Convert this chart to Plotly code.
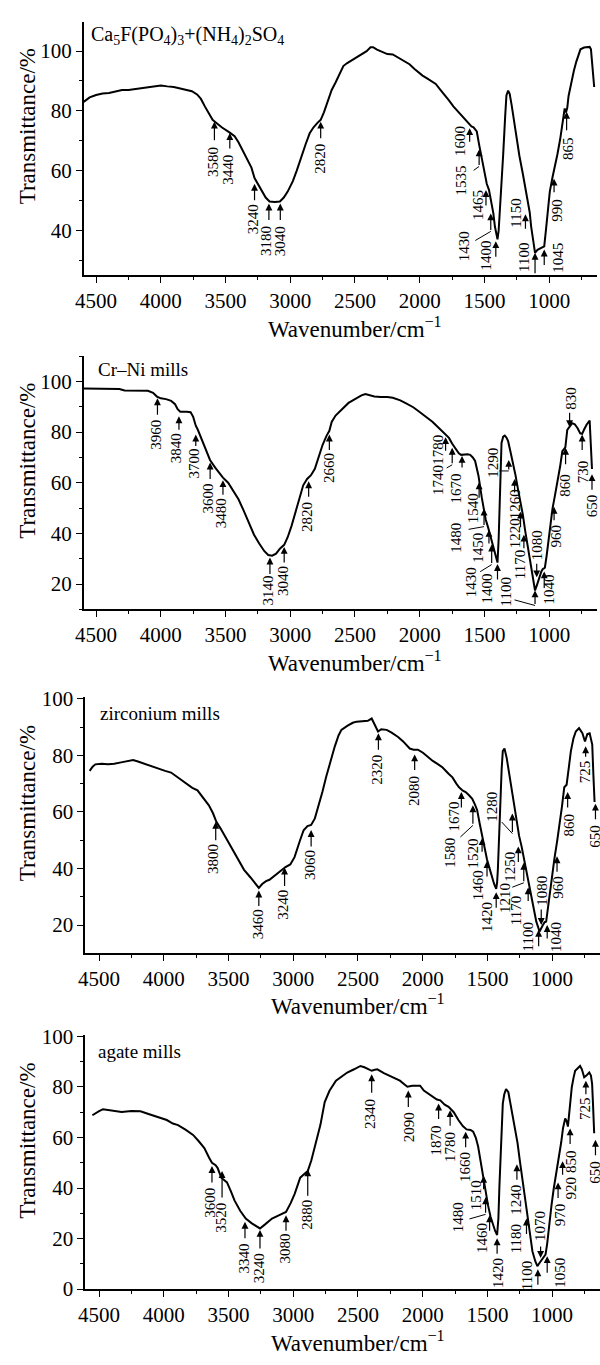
import plotly.graph_objects as go

# ---------------- data ----------------
# Panel 1: Ca5F(PO4)3 + (NH4)2SO4
p1_wn = [4596,4550,4500,4450,4400,4350,4300,4250,4200,4150,4100,4050,4000,3950,3900,3850,3800,3760,3720,3690,
         3660,3630,3600,3580,3530,3470,3430,3400,3370,3330,3300,3276,3250,3220,3190,3160,3120,3080,3050,3020,
         2980,2950,2920,2880,2850,2820,2790,2765,2740,2710,2680,2650,2620,2590,2560,2520,2480,2440,2410,2380,
         2360,2330,2290,2250,2208,2150,2100,2079,2040,2000,1978,1940,1900,1876,1840,1800,1774,1740,1700,1673,
         1640,1600,1584,1559,1541,1521,1508,1482,1465,1450,1440,1431,1419,1399,1390,1381,1368,1355,1340,1330,
         1317,1305,1290,1270,1254,1230,1203,1185,1165,1150,1139,1125,1109,1090,1070,1050,1038,1025,1012,995,
         974,955,936,915,898,880,870,860,850,835,809,790,770,758,730,700,687,677,665,652]
p1_t = [83.0,84.5,85.3,85.8,86.0,86.5,87.0,87.0,87.3,87.5,88.0,88.2,88.5,88.2,88.0,87.5,87.0,86.6,85.5,84.0,
        81.5,79.0,77.0,76.3,74.5,72.8,71.5,69.5,67.0,63.5,61.0,57.5,55.5,53.0,51.0,49.7,49.5,49.7,51.0,53.0,
        56.5,60.0,64.0,69.0,72.5,74.5,76.0,77.0,79.5,83.5,87.0,89.5,92.0,95.0,96.0,97.0,98.0,99.0,100.0,101.3,
        101.3,100.5,99.8,99.0,98.9,97.5,96.2,95.6,94.0,92.5,91.8,90.8,89.5,89.0,87.0,85.0,83.5,81.5,79.5,78.1,
        76.5,74.8,74.5,73.1,68.7,64.0,61.1,55.6,53.6,50.5,48.0,45.7,41.3,37.0,40.0,45.7,55.0,65.5,78.0,85.2,
        86.8,85.7,82.0,76.0,70.9,65.0,58.9,54.5,50.1,46.0,41.3,36.5,32.5,33.5,34.0,34.3,34.7,40.0,45.7,53.0,
        57.8,61.5,65.5,70.5,75.3,80.8,79.5,81.0,85.0,88.5,93.4,96.5,99.5,100.6,101.2,101.4,101.4,100.6,95.0,88.0]
p1_lab = ["3580","3440","3240","3180","3040","2820","1600","1535","1465","1430","1400","1150","1100","1045","990","865"]
p1_lab_wn = [3586,3467,3276,3165,3077,2765,1614,1541,1488,1451,1412,1183,1109,1038,962,865]
p1_lab_t = [76.4,72.6,55.6,49.0,49.0,76.4,74.2,67.1,53.5,45.7,36.4,45.4,32.5,33.6,57.3,79.7]

# Panel 2: Cr-Ni mills
p2_wn = [4596,4500,4400,4320,4280,4200,4100,4060,4030,4000,3960,3920,3890,3870,3850,3800,3770,3750,3730,3715,
         3690,3660,3620,3580,3540,3520,3480,3440,3400,3360,3320,3280,3240,3200,3170,3140,3110,3080,3047,3020,
         2990,2960,2930,2900,2870,2840,2810,2780,2750,2720,2698,2680,2650,2600,2550,2500,2450,2420,2390,2350,
         2300,2250,2208,2150,2105,2050,2003,1950,1902,1860,1825,1800,1774,1750,1736,1717,1698,1680,1660,1630,
         1610,1590,1572,1546,1520,1508,1490,1470,1450,1431,1415,1399,1390,1381,1373,1368,1355,1343,1330,1317,
         1300,1279,1260,1241,1220,1203,1185,1165,1145,1127,1109,1095,1076,1060,1050,1033,1020,1012,995,974,
         955,936,915,898,885,875,860,840,822,802,780,760,745,730,710,687,678,669]
p2_t = [97.2,97.2,97.0,97.0,96.4,96.3,96.3,95.5,94.0,93.3,93.0,92.3,91.0,89.0,88.0,88.0,87.8,86.0,82.5,81.0,
        78.0,74.0,69.0,66.0,63.5,62.0,60.0,57.0,53.5,49.0,44.0,39.5,36.0,33.0,31.5,31.2,32.0,34.0,35.5,38.5,
        43.0,48.5,54.0,59.0,61.5,63.0,65.5,70.0,75.0,78.5,80.5,84.0,86.5,89.0,91.5,93.0,94.5,95.0,94.5,94.0,
        93.8,93.8,93.5,92.5,91.3,89.8,88.0,86.0,84.1,82.0,80.3,79.0,77.7,75.5,74.4,73.0,71.6,71.0,71.2,71.2,
        71.0,70.0,68.6,62.8,54.0,49.8,45.5,42.1,38.0,34.3,31.0,28.5,38.0,52.4,68.0,75.7,78.2,78.6,77.8,76.4,
        72.5,68.0,63.0,57.6,52.0,47.3,41.0,34.3,28.0,22.7,17.5,19.5,22.7,25.0,25.9,26.5,31.0,34.3,42.0,49.8,
        55.0,60.2,66.5,72.5,73.5,74.0,80.9,82.5,83.5,83.1,81.5,79.5,79.3,81.0,83.0,84.5,75.0,65.4]
p2_lab = ["3960","3840","3700","3600","3480","3140","3040","2820","2660","1780","1740","1670","1540","1480","1450",
          "1430","1400","1290","1260","1220","1170","1080","1100","1040","960","860","830","730","650"]
p2_lab_wn = [4026,3860,3730,3619,3520,3157,3047,2858,2698,1800,1749,1673,1541,1503,1465,
             1444,1399,1312,1267,1221,1195,1096,1109,1038,962,873,842,745,669]
p2_lab_t = [93.3,86.2,79.0,68.0,61.0,30.5,34.7,60.6,79.0,78.0,73.8,70.6,60.2,49.8,41.4,
            35.6,27.9,69.0,61.5,48.6,39.5,22.7,17.5,25.0,50.5,73.8,81.9,79.0,63.4]

# Panel 3: zirconium mills
p3_wn = [4573,4550,4529,4480,4430,4383,4330,4280,4237,4200,4150,4100,4032,3990,3944,3900,3860,3827,3780,3740,
         3700,3652,3620,3594,3560,3506,3460,3418,3380,3330,3290,3266,3240,3210,3184,3140,3096,3060,3023,2990,
         2950,2920,2890,2862,2833,2800,2775,2745,2716,2680,2650,2628,2580,2540,2511,2470,2424,2394,2370,2345,
         2320,2278,2240,2190,2151,2100,2070,2037,1998,1960,1922,1880,1846,1800,1770,1740,1719,1690,1668,1640,
         1617,1595,1579,1560,1541,1520,1503,1480,1465,1448,1432,1425,1419,1410,1402,1390,1381,1368,1351,1330,
         1313,1290,1274,1255,1236,1215,1198,1180,1160,1140,1122,1097,1085,1071,1058,1046,1035,1021,1000,983,
         960,944,925,906,888,870,855,835,817,792,775,766,746,728,710,700,690,681,672]
p3_t = [74.5,76.0,76.8,77.0,76.8,77.0,77.5,78.0,78.3,77.8,77.0,76.0,75.0,74.5,73.9,72.5,71.0,69.9,68.5,67.6,
        65.0,62.3,59.5,56.5,54.0,49.6,46.0,42.6,39.5,36.8,34.5,33.1,34.5,35.5,36.0,37.5,39.1,40.5,41.4,44.0,
        49.6,53.5,55.0,55.4,57.7,62.5,67.0,72.5,77.4,83.0,87.0,89.0,90.5,91.5,91.9,92.0,92.2,93.0,91.0,88.4,
        89.2,89.0,88.0,86.5,84.9,82.4,82.0,82.0,80.9,79.5,78.0,76.8,75.7,73.5,72.2,70.0,68.7,67.5,67.0,65.8,
        64.6,62.5,60.6,56.0,51.3,46.5,43.2,39.5,36.8,34.5,32.8,35.0,39.7,52.0,65.2,75.0,81.5,82.4,79.1,73.0,
        67.5,61.0,55.9,51.5,47.8,43.0,38.5,34.0,30.4,25.5,21.2,17.7,19.0,20.0,21.0,21.2,25.0,30.4,37.5,43.2,
        50.0,54.8,61.5,68.7,69.6,76.0,81.5,86.0,88.4,89.6,88.5,87.8,84.9,87.5,87.8,86.0,83.8,73.0,63.5]
p3_lab = ["3800","3460","3240","3060","2320","2080","1670","1580","1520","1460","1420","1280","1250","1210",
          "1170","1080","1100","1040","960","860","725","650"]
p3_lab_wn = [3599,3266,3067,2862,2342,2062,1701,1612,1541,1503,1432,1307,1261,1219,
             1185,1084,1104,1038,962,880,741,665]
p3_lab_t = [56.5,32.2,40.3,53.6,87.8,80.3,67.0,62.3,50.7,42.6,31.6,59.4,47.8,42.0,
            33.3,20.0,18.3,20.0,44.3,67.0,83.2,62.9]

# Panel 4: agate mills
p4_wn = [4552,4520,4500,4470,4442,4400,4326,4250,4180,4130,4093,4040,3977,3930,3890,3830,3774,3730,3687,3650,
         3628,3600,3585,3556,3530,3512,3480,3454,3410,3367,3320,3280,3257,3220,3190,3164,3120,3080,3056,3020,
         2989,2960,2946,2915,2888,2860,2840,2815,2790,2757,2720,2670,2620,2583,2530,2481,2450,2420,2394,2370,
         2350,2300,2232,2176,2140,2118,2080,2042,2020,1991,1960,1928,1890,1864,1830,1800,1760,1724,1690,1661,
         1630,1610,1590,1572,1550,1534,1515,1495,1475,1457,1440,1425,1415,1407,1395,1381,1370,1356,1338,1320,
         1305,1285,1267,1250,1229,1210,1191,1170,1152,1130,1114,1095,1076,1060,1051,1038,1026,1005,988,970,
         950,930,916,899,888,878,865,848,835,822,800,784,770,752,735,713,700,691,683,675]
p4_t = [68.8,70.0,70.4,71.2,71.0,70.5,70.1,70.5,70.4,69.5,68.8,68.0,66.9,65.5,64.9,63.0,61.0,58.5,55.8,52.0,
        50.0,49.0,48.0,44.1,43.0,42.2,38.5,35.1,31.0,27.9,26.0,24.5,24.0,25.5,27.0,27.9,29.0,30.0,30.5,34.0,
        37.7,42.0,44.1,45.5,46.7,51.0,55.0,59.7,65.0,74.0,78.5,82.5,84.5,85.7,87.0,88.3,87.8,87.0,86.4,86.8,
        87.0,85.5,84.0,82.5,81.0,80.1,80.5,80.5,80.5,78.6,77.5,76.6,75.0,74.7,73.0,72.1,70.0,66.9,64.5,63.2,
        63.0,62.3,60.0,56.5,50.0,44.8,38.5,33.1,28.5,25.3,23.0,21.4,28.0,40.9,58.0,73.4,77.0,79.2,77.9,73.0,
        68.2,63.0,57.8,51.0,43.5,35.5,27.9,21.0,14.9,11.0,9.1,10.5,11.7,13.0,13.6,18.0,24.0,33.0,39.6,45.0,
        51.3,58.0,63.6,67.5,66.5,64.3,71.0,79.9,83.5,86.4,87.5,88.3,87.0,83.8,84.5,85.7,84.5,81.2,72.0,61.7]
p4_lab = ["3600","3520","3340","3240","3080","2880","2340","2090","1870","1780","1660","1510","1480","1460",
          "1420","1240","1180","1070","1100","1050","970","920","850","725","650"]
p4_lab_wn = [3628,3550,3373,3257,3056,2888,2394,2111,1877,1788,1668,1529,1514,1483,
             1425,1272,1198,1089,1110,1038,954,919,861,739,665]
p4_lab_t = [48.7,46.7,26.6,23.4,29.2,47.4,85.0,78.6,73.4,70.8,62.3,44.8,36.3,29.2,
            20.1,49.4,27.9,12.3,7.8,13.0,42.2,50.6,63.6,82.5,59.1]

panel_names = ["Ca<sub>5</sub>F(PO<sub>4</sub>)<sub>3</sub>+(NH<sub>4</sub>)<sub>2</sub>SO<sub>4</sub>",
               "Cr\u2013Ni mills", "zirconium mills", "agate mills"]
x_title = "Wavenumber/cm<sup>\u22121</sup>"
y_title = "Transmittance/%"

# ---------------- label styling: (arrow length px [neg = from above], text dx, text dy, leader) ----------------
p1_style = [(20,-2,40,None),(17,-2,37,None),(18,-2,36,None),(18,-3,37.5,None),(18,0,37.5,None),(18,-1,37.5,None),
            (15,-9,13,None),(17,-18,31,(-7,5)),(17,-8,15,None),(18,-26,33,(-17,10)),(17,-9.5,14,None),
            (16,-9,-1,None),(22,-11,5,None),(17,13,8,None),(15,3,32,None),(20,0.7,37,None)]
p2_style = [(18,-1,36,None),(15,-3,32,None),(13,-2,29,None),(18,-2,36,None),(16,-2,33,None),(18,-2,33,None),
            (17,-1,34,None),(17,-1,36,None),(17,-1,33,None),(15,-7,13,None),(17,-14,32,(-7,4)),(13,-6,32.5,None),
            (17,-6,26,None),(18,-28,29,(-17,3)),(15,-11,18,None),(20,-21,38,(-13,8)),(17,-10,24,None),
            (11,-16,3,(-11,0)),(15,0,25.6,None),(17,-6,22,None),(15,-4.4,30,None),(-15,0,-31.7,None),
            (15,-29,2,(-22,-6)),(18,5.7,18,None),(15,1.7,29,None),(18,0,37.5,None),(-16,1.8,-29,None),
            (17,0.8,36.7,None),(17,0.3,31.7,None)]
p3_style = [(20,-2,37.5,None),(17,-1,34,None),(20,-1,37.5,None),(18,-1,35,None),(18,-1,36,None),(17,-0.7,36.7,None),
            (17,-7,24,None),(20,-23,47.5,(-14,13)),(15,-8.7,15,None),(17,-8.8,24,None),(17,-9.3,25,None),
            (20,-20.4,-6.7,(-12,-13)),(17,-8,20,None),(20,-18.5,35,(-13,5)),(15,-12.7,23.3,None),
            (-17,0.5,-34,None),(18,-10.7,6.7,None),(15,9,11.7,None),(17,0.7,30.8,None),(17,1.3,32.5,None),
            (12,-0.7,25,None),(17,0,32.5,None)]
p4_style = [(18,-2,36.7,None),(28,-1,46.7,None),(18,-1,36.6,None),(20,-1,38.3,None),(17,-1,33.3,None),
            (28,-1,45.7,None),(20,-1,40,None),(18,0.7,36.7,None),(17,-2.4,36.6,None),(17,0,36.7,None),
            (17,0,35.8,None),(15,-7.3,19,None),(17,-27.6,20,(-17.6,5)),(17,-8.3,22.5,None),(17,0.7,35,None),
            (17,-1,35.7,None),(17,-10.7,20,None),(-13,0,-31.6,None),(17,-10.6,6.7,None),(18,12.8,16.6,None),
            (17,2.3,32.5,None),(15,8,26.7,None),(17,0.3,33.3,None),(15,-1,27.5,None),(17,0,32.5,None)]

# ---------------- layout geometry (pixels) ----------------
W, H = 600, 1365
FONT = "Liberation Serif, Times New Roman, serif"
panels = [
    dict(wn=p1_wn, t=p1_t, lab=p1_lab, lwn=p1_lab_wn, lt=p1_lab_t, sty=p1_style,
         xpx=(76.7, 597), ypx=(11.7, 269.3), yr=(25.1, 109.9), xr=(4596, 630),
         name_pos=(81.7, 26), ytitle_y=118, xtitle=(352, 323)),
    dict(wn=p2_wn, t=p2_t, lab=p2_lab, lwn=p2_lab_wn, lt=p2_lab_t, sty=p2_style,
         xpx=(76.7, 597), ypx=(351.7, 609.3), yr=(10, 110), xr=(4596, 630),
         name_pos=(88.8, 365), ytitle_y=458, xtitle=(352, 662)),
    dict(wn=p3_wn, t=p3_t, lab=p3_lab, lwn=p3_lab_wn, lt=p3_lab_t, sty=p3_style,
         xpx=(78.3, 600), ypx=(698, 958.3), yr=(10.16, 100.7), xr=(4607, 630),
         name_pos=(91, 715), ytitle_y=806, xtitle=(355, 1011)),
    dict(wn=p4_wn, t=p4_t, lab=p4_lab, lwn=p4_lab_wn, lt=p4_lab_t, sty=p4_style,
         xpx=(78.3, 600), ypx=(1041.7, 1300), yr=(0, 100.6), xr=(4607, 630),
         name_pos=(88.8, 1059), ytitle_y=1149, xtitle=(355, 1353)),
]

fig = go.Figure()
layout = dict(width=W, height=H, margin=dict(l=0, r=0, t=0, b=0), paper_bgcolor="white",
              plot_bgcolor="white", showlegend=False, font=dict(family=FONT, color="black"))
annotations = []

axis_common = dict(showline=True, linecolor="black", linewidth=1.6, ticks="outside", tickcolor="black",
                   tickwidth=1.4, ticklen=6, showgrid=False, zeroline=False,
                   tickfont=dict(family=FONT, size=21, color="black"))

for i, p in enumerate(panels):
    n = i + 1
    xs = "x" if n == 1 else f"x{n}"
    ys = "y" if n == 1 else f"y{n}"
    xk = "xaxis" if n == 1 else f"xaxis{n}"
    yk = "yaxis" if n == 1 else f"yaxis{n}"
    x0, x1 = p["xpx"][0] / W, p["xpx"][1] / W
    y0, y1 = 1 - p["ypx"][1] / H, 1 - p["ypx"][0] / H
    layout[xk] = dict(axis_common, domain=[x0, x1], range=list(p["xr"]), anchor=ys,
                      tick0=0, dtick=500,
                      minor=dict(ticks="outside", ticklen=3, tickwidth=1.2, tickcolor="black", dtick=250))
    layout[yk] = dict(axis_common, domain=[y0, y1], range=list(p["yr"]), anchor=xs,
                      tick0=0, dtick=20,
                      minor=dict(ticks="outside", ticklen=3, tickwidth=1.2, tickcolor="black", dtick=10))
    fig.add_trace(go.Scatter(x=p["wn"], y=p["t"], mode="lines", xaxis=xs, yaxis=ys,
                             line=dict(color="black", width=2), hoverinfo="skip"))

    # panel name
    annotations.append(dict(xref="paper", yref="paper", x=p["name_pos"][0] / W, y=1 - p["name_pos"][1] / H,
                            xanchor="left", yanchor="middle", showarrow=False, text=panel_names[i],
                            font=dict(family=FONT, size=20 if n == 1 else 19, color="black")))
    # axis titles
    annotations.append(dict(xref="paper", yref="paper", x=19.5 / W, y=1 - p["ytitle_y"] / H,
                            xanchor="center", yanchor="middle", showarrow=False, textangle=-90,
                            text=y_title, font=dict(family=FONT, size=23, color="black")))
    annotations.append(dict(xref="paper", yref="paper", x=p["xtitle"][0] / W, y=1 - p["xtitle"][1] / H,
                            xanchor="center", yanchor="middle", showarrow=False,
                            text=x_title, font=dict(family=FONT, size=23, color="black")))

    # peak labels with arrows
    for lab, lwn, lt, (L, dx, dy, leader) in zip(p["lab"], p["lwn"], p["lt"], p["sty"]):
        annotations.append(dict(xref=xs, yref=ys, x=lwn, y=lt, text="", showarrow=True,
                                ax=0, ay=L, arrowhead=2, arrowsize=1.15, arrowwidth=1.2,
                                arrowcolor="black", font=dict(size=1)))
        if leader is not None:
            annotations.append(dict(xref=xs, yref=ys, x=lwn, y=lt, yshift=-L, text="", showarrow=True,
                                    ax=leader[0], ay=leader[1], arrowhead=0, arrowwidth=1.0,
                                    arrowcolor="black", font=dict(size=1)))
        annotations.append(dict(xref=xs, yref=ys, x=lwn, y=lt, text=lab, showarrow=False,
                                textangle=-90, xshift=dx, yshift=-dy, xanchor="center", yanchor="middle",
                                font=dict(family=FONT, size=15, color="black")))

layout["annotations"] = annotations
fig.update_layout(**layout)
fig.write_html("out.html")
